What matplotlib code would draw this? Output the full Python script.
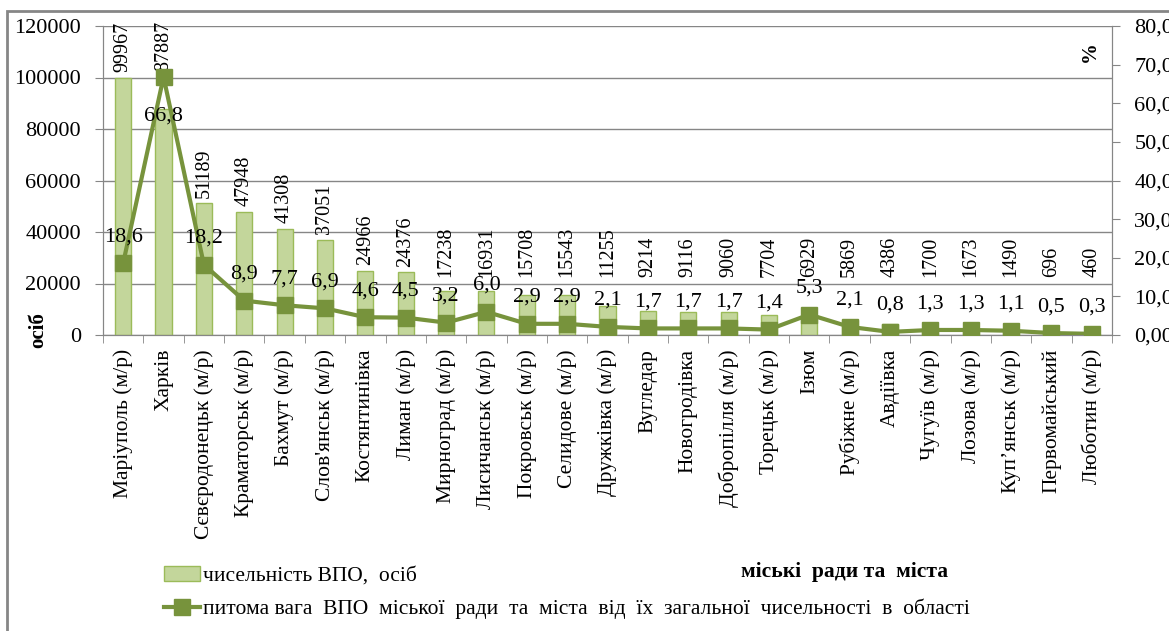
import numpy as np
import matplotlib
matplotlib.use('Agg')
import matplotlib.pyplot as plt
from matplotlib.patches import Rectangle, Patch
from matplotlib.lines import Line2D
from matplotlib.ticker import FuncFormatter, MultipleLocator

plt.rcParams['font.family'] = ['Liberation Serif', 'DejaVu Serif']

cities = ['Маріуполь (м/р)', 'Харків', 'Сєвєродонецьк (м/р)', 'Краматорськ (м/р)',
          'Бахмут (м/р)', "Слов'янськ (м/р)", 'Костянтинівка', 'Лиман (м/р)',
          'Мирноград (м/р)', 'Лисичанськ (м/р)', 'Покровськ (м/р)', 'Селидове (м/р)',
          'Дружківка (м/р)', 'Вугледар', 'Новогродівка', 'Добропілля (м/р)',
          'Торецьк (м/р)', 'Ізюм', 'Рубіжне (м/р)', 'Авдіївка', 'Чугуїв (м/р)',
          'Лозова (м/р)', 'Куп\u02bcянськ (м/р)', 'Первомайський', 'Люботин (м/р)']
idp_count = [99967, 87887, 51189, 47948, 41308, 37051, 24966, 24376, 17238, 16931,
             15708, 15543, 11255, 9214, 9116, 9060, 7704, 6929, 5869, 4386,
             1700, 1673, 1490, 696, 460]
idp_share = [18.6, 66.8, 18.2, 8.9, 7.7, 6.9, 4.6, 4.5, 3.2, 6.0, 2.9, 2.9, 2.1,
             1.7, 1.7, 1.7, 1.4, 5.3, 2.1, 0.8, 1.3, 1.3, 1.1, 0.5, 0.3]

W, H = 1169, 631
fig = plt.figure(figsize=(W / 100, H / 100), dpi=100)
ax = fig.add_axes([103 / W, 1 - 335 / H, (1112 - 103) / W, (335 - 26) / H])
ax2 = ax.twinx()

grey = '#868686'
bar_c = '#c3d69b'
bar_e = '#9bbb59'
line_c = '#77933c'

x = np.arange(len(cities))
ax.bar(x, idp_count, width=0.40, color=bar_c, edgecolor=bar_e, linewidth=1, zorder=2)
ax.set_ylim(0, 120000)
ax.set_xlim(-0.5, len(cities) - 0.5)
ax.yaxis.set_major_locator(MultipleLocator(20000))
ax.grid(axis='y', color=grey, linewidth=1, zorder=0)
ax.set_axisbelow(True)

ax2.plot(x, idp_share, color=line_c, linewidth=3, marker='s', markersize=12, zorder=3)
ax2.set_ylim(0, 80)
ax2.yaxis.set_major_locator(MultipleLocator(10))
ax2.yaxis.set_major_formatter(FuncFormatter(lambda v, p: f'{v:.2f}'.replace('.', ',')))

# bar labels sit above the bar, but never below the line labels / marker
scale = 120000 / 80
for xi, v, s in zip(x, idp_count, idp_share):
    base = max(v, s * scale, 20500)
    ax.annotate(str(v), (xi, base), xytext=(0, 4), textcoords='offset points',
                rotation=90, ha='center', va='bottom', fontsize=14.5)

for i, (xi, v) in enumerate(zip(x, idp_share)):
    dy = -28 if i == 1 else 19
    ax2.annotate(f'{v:.1f}'.replace('.', ','), (xi, v), xytext=(0, dy),
                 textcoords='offset points', ha='center', va='center', fontsize=16)

ax.set_xticks(x)
ax.set_xticklabels(cities, rotation=90, fontsize=15.5)
ax.set_xticks(np.arange(-0.5, len(cities)), minor=True)
ax.tick_params(axis='x', which='major', length=0, pad=10)
ax.tick_params(axis='x', which='minor', length=6, color=grey)
ax.tick_params(axis='y', length=6, color=grey, labelsize=16, pad=10)
ax2.tick_params(axis='y', length=6, color=grey, labelsize=16, pad=10)

for a in (ax, ax2):
    for s in a.spines.values():
        s.set_color(grey)
    a.spines['top'].set_visible(False)

fig.text(38 / W, 1 - 330 / H, 'осіб', rotation=90, fontsize=15, fontweight='bold',
         ha='center', va='center')
fig.text(1090 / W, 1 - 52 / H, '%', rotation=90, fontsize=15, fontweight='bold',
         ha='center', va='center')

handles = [Patch(facecolor=bar_c, edgecolor=bar_e),
           Line2D([], [], color=line_c, linewidth=3, marker='s', markersize=12)]
labels = ['чисельність ВПО,  осіб',
          'питома вага  ВПО  міської  ради  та  міста  від  їх  загальної  чисельності  в  області']
fig.legend(handles, labels, loc='upper left', bbox_to_anchor=(155 / W, 1 - 557 / H),
           frameon=False, fontsize=15.5, handlelength=1.7, handletextpad=0.15,
           labelspacing=0.6, borderaxespad=0)

fig.text(845 / W, 1 - 572 / H, 'міські  ради та  міста', fontsize=15.5, fontweight='bold',
         ha='center', va='center')

fig.patches.append(Rectangle((7 / W, -0.05), 1.1, 1 - 11 / H + 0.05,
                             transform=fig.transFigure, fill=False,
                             edgecolor=grey, linewidth=2))

fig.savefig('out.png', dpi=100)
